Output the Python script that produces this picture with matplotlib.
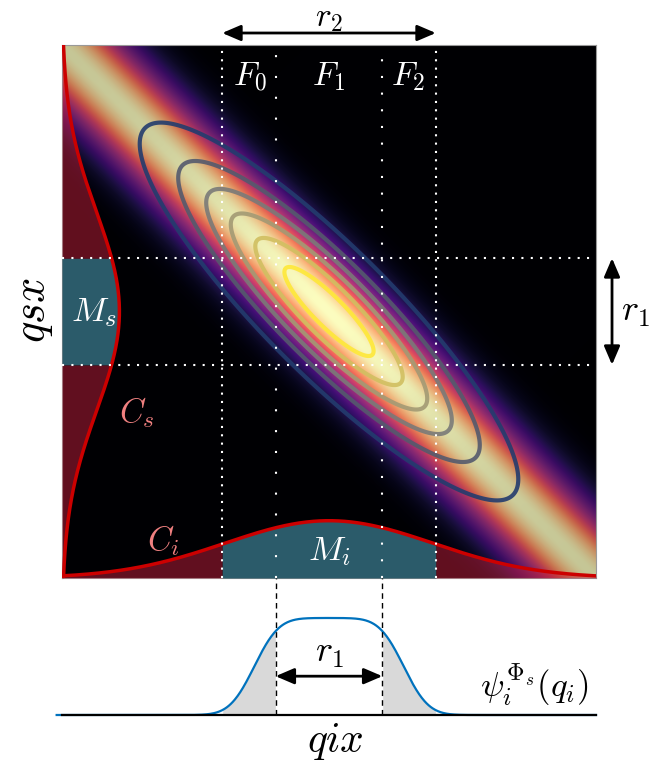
import math
import numpy as np
import matplotlib
matplotlib.use("Agg")
import matplotlib.pyplot as plt
from matplotlib import colors

plt.rcParams['mathtext.fontset'] = 'cm'
plt.rcParams['font.family'] = ['DejaVu Serif']

# ---------------- data / parameters ----------------
axis_lim = [-1.0, 1.0]
pump_sigma = 0.115         # width of the anti-diagonal band
jsa_perp_sigma = 0.122     # perpendicular width of the contoured amplitude
pm_sigma = 0.50            # envelope width along the band
band_dim = 0.78            # brightness of the band far from the centre
contour_levels = [0.15, 0.30, 0.45, 0.60, 0.75, 0.90]
r1_half = 0.2
r2_half = 0.4
marg_amp = 0.215
marg_sigma_s = 0.37
marg_sigma_i = 0.39
psi_half = 0.28
psi_edge = 0.103
frame_labels = ['$F_0$', '$F_1$', '$F_2$']
frame_x = [-0.295, 0.0, 0.297]

# ---------------- figure ----------------
fig = plt.figure(figsize=(6.68, 7.63), dpi=100)
W, H = 668.0, 763.0
ax = fig.add_axes([62 / W, (H - 578) / H, 534 / W, 533 / H])
ax.set_xlim(axis_lim)
ax.set_ylim(axis_lim)
ax.set_xticks([]); ax.set_yticks([])
for s in ax.spines.values():
    s.set_color('#999999'); s.set_linewidth(0.8)

N = 600
g = np.linspace(axis_lim[0], axis_lim[1], N)
X, Y = np.meshgrid(g, g)
u = (X + Y) / np.sqrt(2)
v = (X - Y) / np.sqrt(2)
P = np.exp(-u**2 / (2 * pump_sigma**2))
Phi = np.exp(-v**2 / (2 * pm_sigma**2))
J = np.exp(-u**2 / (2 * jsa_perp_sigma**2)) * Phi
rgb = plt.get_cmap('magma')(P)[..., :3]
rgb = rgb * (band_dim + (1 - band_dim) * Phi)[..., None]
ax.imshow(rgb, extent=[-1, 1, -1, 1], origin='lower', aspect='auto', zorder=1)

ax.contour(X, Y, J, levels=contour_levels, cmap='cividis',
           norm=colors.Normalize(0.02, 0.9), linewidths=3.0, alpha=0.9, zorder=2)

red_fill = (0.76, 0.12, 0.23, 0.5)
teal = '#2b5b6a'
red_line = '#cc0000'

# left marginal (signal)
def gs(y):
    return -1 + marg_amp * np.exp(-y**2 / (2 * marg_sigma_s**2))
for lo, hi, c in [(-1, -r1_half, red_fill), (-r1_half, r1_half, teal), (r1_half, 1, red_fill)]:
    yy = np.linspace(lo, hi, 200)
    ax.fill_betweenx(yy, -1, gs(yy), color=c, lw=0, zorder=3)
yy = np.linspace(-1, 1, 600)
ax.plot(gs(yy), yy, color=red_line, lw=2.5, zorder=4)

# bottom marginal (idler)
def gi(x):
    return -1 + marg_amp * np.exp(-x**2 / (2 * marg_sigma_i**2))
for lo, hi, c in [(-1, -r2_half, red_fill), (-r2_half, r2_half, teal), (r2_half, 1, red_fill)]:
    xx = np.linspace(lo, hi, 200)
    ax.fill_between(xx, -1, gi(xx), color=c, lw=0, zorder=3)
xx = np.linspace(-1, 1, 600)
ax.plot(xx, gi(xx), color=red_line, lw=2.5, zorder=4)

# dotted guide lines
for xv in (-r2_half, r2_half):
    ax.axvline(xv, color='white', lw=1.5, ls=(0, (1, 3)), zorder=5)
ax.axvline(-r1_half, color='white', lw=1.5, ls=(0, (1, 9.0)), zorder=5)
ax.axvline(r1_half, color='white', lw=1.5, ls=(0, (1, 7.0)), zorder=5)
for yv in (-r1_half, r1_half):
    ax.axhline(yv, color='white', lw=1.5, ls=(0, (1, 3.5)), zorder=5)

# labels in the panel
for lab, fx in zip(frame_labels, frame_x):
    ax.text(fx, 0.88, lab, color='white', fontsize=24, ha='center', va='center', zorder=6)
ax.text(-0.88, 0.0, '$M_s$', color='white', fontsize=25, ha='center', va='center', zorder=6)
ax.text(0.0, -0.9, '$M_i$', color='white', fontsize=25, ha='center', va='center', zorder=6)
ax.text(-0.72, -0.38, '$C_s$', color='#f08080', fontsize=24, ha='center', va='center', zorder=6)
ax.text(-0.62, -0.86, '$C_i$', color='#f08080', fontsize=24, ha='center', va='center', zorder=6)

arrow_kw = dict(arrowstyle='<|-|>,head_length=0.7,head_width=0.3', lw=2, color='black',
                mutation_scale=16, shrinkA=0, shrinkB=0)
# r2 arrow on top
ax.annotate('', xy=(r2_half, 1.045), xytext=(-r2_half, 1.045), xycoords='data',
            arrowprops=arrow_kw, annotation_clip=False)
ax.text(0.0, 1.10, '$r_2$', fontsize=24, ha='center', va='center', clip_on=False)
# r1 arrow on the right
ax.annotate('', xy=(1.06, -r1_half), xytext=(1.06, r1_half), xycoords='data',
            arrowprops=arrow_kw, annotation_clip=False)
ax.text(1.095, 0.0, '$r_1$', fontsize=26, ha='left', va='center', clip_on=False)

fig.text(33 / W, (H - 310) / H, '$qsx$', fontsize=32, rotation=90, ha='center', va='center')

# ---------------- bottom panel ----------------
bx = fig.add_axes([62 / W, (H - 715) / H, 534 / W, 137 / H])
bx.set_xlim(axis_lim)
bx.set_ylim(0, 1.412)
bx.set_xticks([]); bx.set_yticks([])
for k in ('top', 'left', 'right'):
    bx.spines[k].set_visible(False)
bx.spines['bottom'].set_linewidth(1.6)
bx.patch.set_alpha(0)

erf = np.vectorize(math.erf)
qx = np.linspace(-1.02, 1.0, 800)
psi = 0.5 * (erf((qx + psi_half) / psi_edge) - erf((qx - psi_half) / psi_edge))
for lo, hi in [(-r2_half, -r1_half), (r1_half, r2_half)]:
    m = (qx >= lo) & (qx <= hi)
    bx.fill_between(qx[m], 0, psi[m], color='#d9d9d9', lw=0)
bx.plot(qx, psi, color='#0072BD', lw=1.6, clip_on=False)
for xv in (-r1_half, r1_half):
    bx.plot([xv, xv], [0, 1.412], color='black', lw=1.0, ls=(0, (4, 3)), clip_on=False)
bx.annotate('', xy=(r1_half, 0.40), xytext=(-r1_half, 0.40), xycoords='data',
            arrowprops=arrow_kw, annotation_clip=False)
bx.text(0.0, 0.64, '$r_1$', fontsize=26, ha='center', va='center')
bx.text(0.77, 0.31, r'$\psi_i^{\Phi_s}(q_i)$', fontsize=25, ha='center', va='center')
fig.text(335 / W, (H - 741) / H, '$qix$', fontsize=30, ha='center', va='center')

fig.savefig('out.png', dpi=100)
